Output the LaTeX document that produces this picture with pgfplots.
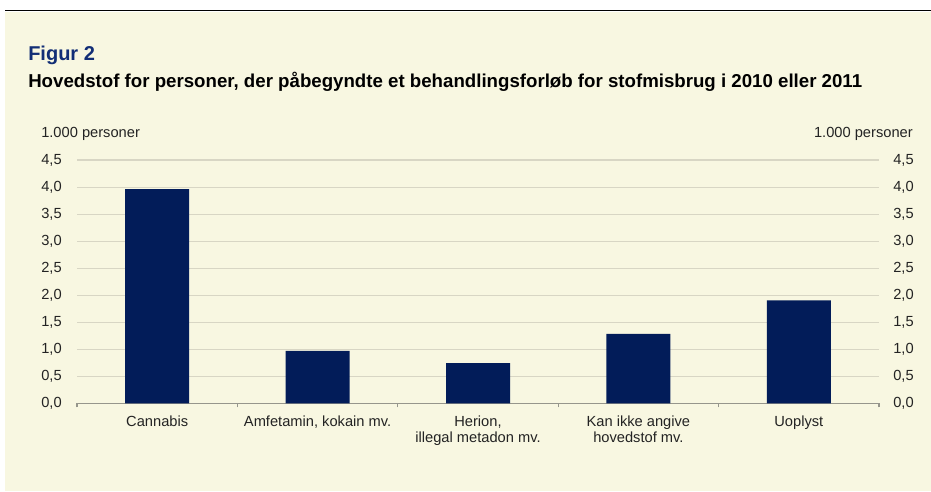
\documentclass[border=0pt]{standalone}
\usepackage{pgfplots}
\pgfplotsset{compat=1.18}
\usepackage{fontspec}
\setmainfont{Liberation Sans}
\definecolor{cream}{RGB}{248,247,225}
\definecolor{navy}{RGB}{2,28,89}
\definecolor{titleblue}{RGB}{18,46,118}
\definecolor{gridc}{RGB}{216,214,196}
\definecolor{axisc}{RGB}{150,150,140}
\definecolor{txt}{RGB}{35,35,35}
\begin{document}
\begin{tikzpicture}[x=0.75pt,y=0.75pt]
\useasboundingbox (0,0) rectangle (931,492);
\fill[white] (0,0) rectangle (931,492);
\fill[cream] (5,1) rectangle (931,480);
\draw[black,line width=1.1pt] (5,481.3) -- (931,481.3);
\node[anchor=base west, font=\bfseries\fontsize{15}{18}\selectfont, text=titleblue, inner sep=0pt] at (28,431.7) {Figur 2};
\node[anchor=base west, font=\bfseries\fontsize{14}{16}\selectfont, text=black, inner sep=0pt] at (28,404.3) {Hovedstof for personer, der påbegyndte et behandlingsforløb for stofmisbrug i 2010 eller 2011};
\node[anchor=base west, font=\fontsize{11}{13}\selectfont, text=txt, inner sep=0pt] at (41,354.3) {1.000 personer};
\node[anchor=base east, font=\fontsize{11}{13}\selectfont, text=txt, inner sep=0pt] at (913,354.3) {1.000 personer};
\begin{axis}[
  at={(57.75pt,66.5pt)}, anchor=south west,
  scale only axis, width=601.5pt, height=182.5pt,
  xmin=-0.5, xmax=4.5, ymin=0, ymax=4.5,
  ytick={0,0.5,...,4.5},
  ymajorgrids, grid style={gridc, line width=0.8pt},
  axis x line*=bottom, axis y line*=left,
  x axis line style={axisc, line width=0.8pt},
  y axis line style={draw=none},
  xtick={0,...,4},
  xticklabels={Cannabis, {Amfetamin, kokain mv.}, {Herion,\\illegal metadon mv.}, {Kan ikke angive\\hovedstof mv.}, Uoplyst},
  major tick length=0pt,
  minor xtick={-0.5,0.5,...,4.5}, minor tick length=3pt, tick align=outside,
  minor tick style={axisc, line width=0.8pt},
  xticklabel style={align=center, font=\fontsize{11}{12}\selectfont, text=txt, inner sep=0pt, yshift=-9.5pt},
  yticklabel style={font=\fontsize{11}{13}\selectfont, text=txt, inner sep=0pt, xshift=-11.25pt,
    /pgf/number format/.cd, fixed, fixed zerofill, precision=1, use comma, assume math mode=true},
]
\addplot[ybar, bar width=48pt, fill=navy, draw=none] coordinates {(0,3.96) (1,0.97) (2,0.745) (3,1.285) (4,1.905)};
\end{axis}
\begin{axis}[
  at={(57.75pt,66.5pt)}, anchor=south west,
  scale only axis, width=601.5pt, height=182.5pt,
  xmin=-0.5, xmax=4.5, ymin=0, ymax=4.5,
  ytick={0,0.5,...,4.5},
  axis x line=none, axis y line*=right,
  y axis line style={draw=none},
  yticklabel pos=right,
  major tick length=0pt,
  yticklabel style={font=\fontsize{11}{13}\selectfont, text=txt, inner sep=0pt, xshift=10.5pt,
    /pgf/number format/.cd, fixed, fixed zerofill, precision=1, use comma, assume math mode=true},
]
\end{axis}
\end{tikzpicture}
\end{document}
